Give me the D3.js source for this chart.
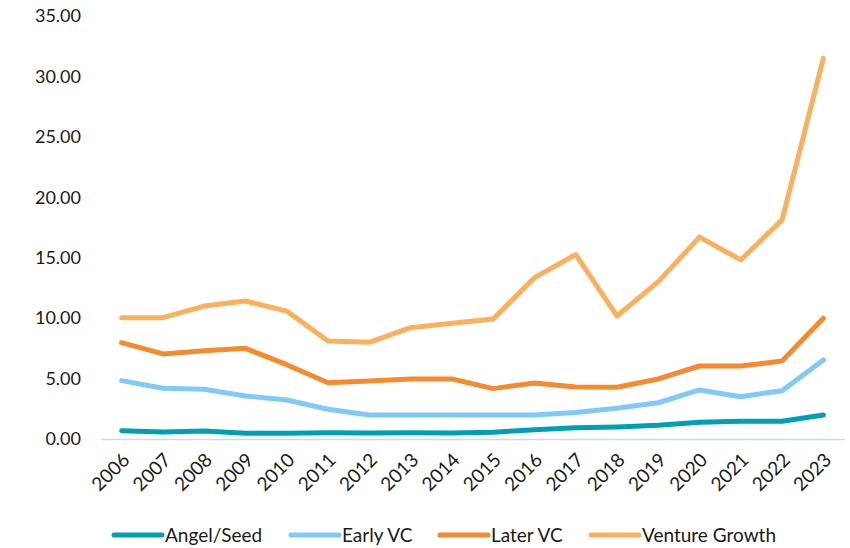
<!DOCTYPE html>
<html>
<head>
<meta charset="utf-8">
<script src="https://cdn.jsdelivr.net/npm/d3@7"></script>
<style>
  body { margin: 0; background: #fff; }
  svg text { font-family: Lato, "Open Sans", sans-serif; fill: #1a1a1a; }
</style>
</head>
<body>
<div id="chart"></div>
<script>
// 数据
const years = ["2006","2007","2008","2009","2010","2011","2012","2013","2014","2015",
               "2016","2017","2018","2019","2020","2021","2022","2023"];
const angelSeed = [0.69, 0.58, 0.66, 0.47, 0.47, 0.52, 0.50, 0.52, 0.50, 0.56,
                   0.77, 0.94, 1.00, 1.13, 1.38, 1.47, 1.47, 1.99];
const earlyVC = [4.83, 4.20, 4.11, 3.56, 3.23, 2.46, 1.99, 1.99, 1.99, 1.99,
                 1.99, 2.20, 2.54, 3.00, 4.06, 3.50, 4.00, 6.54];
const laterVC = [7.97, 7.04, 7.31, 7.50, 6.15, 4.66, 4.80, 4.97, 4.97, 4.17,
                 4.64, 4.30, 4.28, 4.97, 6.04, 6.04, 6.46, 9.99];
const ventureGrowth = [10.04, 10.04, 11.00, 11.42, 10.58, 8.11, 8.00, 9.21, 9.58, 9.93,
                       13.35, 15.26, 10.18, 13.02, 16.70, 14.82, 18.13, 31.50];
const yTicks = [0, 5, 10, 15, 20, 25, 30, 35];

const seriesNames = ["Angel/Seed", "Early VC", "Later VC", "Venture Growth"];
const seriesColors = ["#00A0B4", "#7FCAF8", "#F58A2E", "#FDB05C"];
const seriesValues = [angelSeed, earlyVC, laterVC, ventureGrowth];

const W = 850, H = 548;
const margin = { top: 16, right: 6, bottom: 109, left: 101 };
const width = W - margin.left - margin.right,
      height = H - margin.top - margin.bottom;

const svg = d3.select("#chart").append("svg")
    .attr("width", W).attr("height", H);
const g = svg.append("g")
    .attr("transform", `translate(${margin.left},${margin.top})`);

// 比例尺
const x = d3.scaleBand().domain(years).range([0, width]).padding(0);
const y = d3.scaleLinear().domain([0, 35]).range([height, 0]);

// Y轴
const yAxis = g.append("g")
    .call(d3.axisLeft(y).tickValues(yTicks).tickSize(0).tickPadding(20)
        .tickFormat(d3.format(".2f")));
yAxis.select(".domain").remove();
yAxis.selectAll("text").style("font-size", "18px");

// X轴
const xAxis = g.append("g")
    .attr("transform", `translate(0,${height})`)
    .call(d3.axisBottom(x).tickSize(0));
xAxis.select(".domain").attr("stroke", "#c5ddf0").attr("stroke-width", 1.3);
xAxis.selectAll("text")
    .style("font-size", "19px")
    .attr("text-anchor", "end")
    .attr("dy", null)
    .attr("transform", "translate(7,20) rotate(-45)");

// 折线
const line = d3.line()
    .x((d, i) => x(years[i]) + x.bandwidth() / 2)
    .y(d => y(d));

seriesValues.forEach((vals, k) => {
    g.append("path")
        .datum(vals)
        .attr("fill", "none")
        .attr("stroke", seriesColors[k])
        .attr("stroke-width", 5)
        .attr("stroke-linejoin", "round")
        .attr("stroke-linecap", "round")
        .attr("d", line);
});

// 图例
const legendX = [114, 291, 440, 591];
const legend = svg.append("g").attr("transform", "translate(0,535)");
seriesNames.forEach((name, k) => {
    legend.append("line")
        .attr("x1", legendX[k]).attr("x2", legendX[k] + 48)
        .attr("y1", 0).attr("y2", 0)
        .attr("stroke", seriesColors[k])
        .attr("stroke-width", 5)
        .attr("stroke-linecap", "round");
    legend.append("text")
        .attr("x", legendX[k] + 51).attr("y", 0)
        .attr("dy", "0.35em")
        .style("font-size", "19px")
        .text(name);
});
</script>
</body>
</html>
